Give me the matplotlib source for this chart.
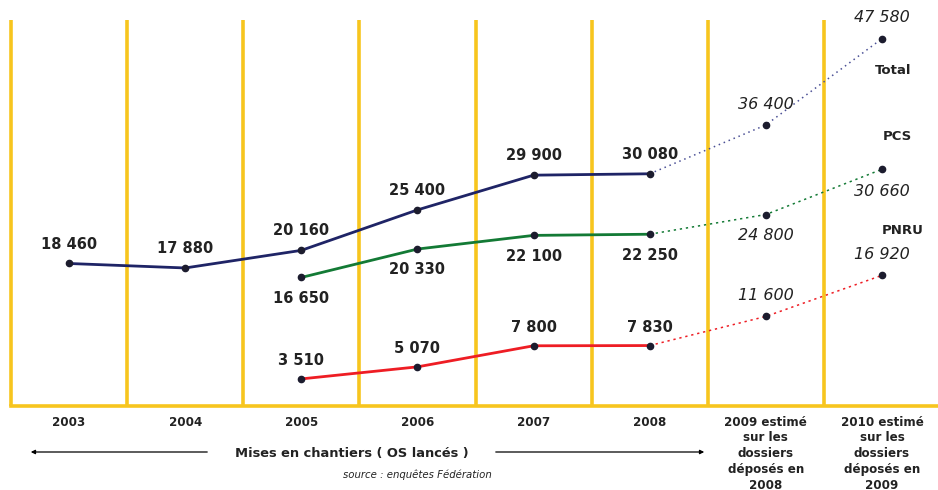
import matplotlib.pyplot as plt
from matplotlib.patches import FancyArrowPatch

# categories (x axis)
years = ['2003', '2004', '2005', '2006', '2007', '2008',
         '2009 estimé\nsur les\ndossiers\ndéposés en\n2008',
         '2010 estimé\nsur les\ndossiers\ndéposés en\n2009']

# observed values (2003-2008)
total_x = [0, 1, 2, 3, 4, 5]
total = [18460, 17880, 20160, 25400, 29900, 30080]
pcs_x = [2, 3, 4, 5]
pcs = [16650, 20330, 22100, 22250]
pnru_x = [2, 3, 4, 5]
pnru = [3510, 5070, 7800, 7830]

# estimates (2008 -> 2010)
est_x = [5, 6, 7]
total_est = [30080, 36400, 47580]
pcs_est = [22250, 24800, 30660]
pnru_est = [7830, 11600, 16920]

def fmt(v):
    return '{:,}'.format(v).replace(',', ' ')

fig = plt.figure(figsize=(9.38, 4.9), dpi=100)
ax = fig.add_axes([11/938, 84/490, 929/938, 386/490])
ax.set_xlim(-0.5, 7.5)
ax.set_ylim(0, 50000)
ax.axis('off')

yellow = '#F7C51E'
for b in range(9):
    ax.plot([b - 0.5, b - 0.5], [0, 50000], color=yellow, lw=2.6,
            solid_capstyle='butt', zorder=1, clip_on=False)
ax.plot([-0.5, 7.6], [0, 0], color=yellow, lw=2.6, zorder=1, clip_on=False)

navy = '#1F2466'
green = '#137A35'
red = '#EE1D24'
dot = '#1c1c2e'

ax.plot(total_x, total, color=navy, lw=2, zorder=3)
ax.plot(pcs_x, pcs, color=green, lw=2, zorder=3)
ax.plot(pnru_x, pnru, color=red, lw=2, zorder=3)
ax.plot(est_x, total_est, color='#4a4f95', lw=1.1, ls=(0, (1, 2.5)), zorder=3)
ax.plot(est_x, pcs_est, color=green, lw=1.1, ls=(0, (1.5, 2.5)), zorder=3)
ax.plot(est_x, pnru_est, color=red, lw=1.1, ls=(0, (1.5, 2.5)), zorder=3)

for xs, ys in [(total_x, total), (pcs_x, pcs), (pnru_x, pnru),
               (est_x[1:], total_est[1:]), (est_x[1:], pcs_est[1:]),
               (est_x[1:], pnru_est[1:])]:
    ax.plot(xs, ys, 'o', color=dot, ms=4.5, zorder=4)

txt = '#222222'
def lab(x, y, dy, italic=False):
    ax.annotate(fmt(y), (x, y), xytext=(0, dy), textcoords='offset points',
                ha='center', va='center', color=txt,
                fontsize=11.5 if italic else 10.5,
                fontweight='normal' if italic else 'bold',
                fontstyle='italic' if italic else 'normal')

for x, y in zip(total_x, total):
    lab(x, y, 14)
for x, y in zip(pcs_x, pcs):
    lab(x, y, -15)
for x, y in zip(pnru_x, pnru):
    lab(x, y, 13)
lab(6, 36400, 15, True)
lab(7, 47580, 15, True)
lab(6, 24800, -15, True)
lab(7, 30660, -16, True)
lab(6, 11600, 15, True)
lab(7, 16920, 15, True)

fig.text(893/938, 1 - 71/490, 'Total', ha='center', va='center',
         fontsize=9.5, fontweight='bold', color=txt)
fig.text(897/938, 1 - 137/490, 'PCS', ha='center', va='center',
         fontsize=9.5, fontweight='bold', color=txt)
fig.text(903/938, 1 - 231/490, 'PNRU', ha='center', va='center',
         fontsize=9.5, fontweight='bold', color=txt)

for i, lb in enumerate(years):
    ax.annotate(lb, (i, 0), xytext=(0, -7), textcoords='offset points',
                ha='center', va='top', fontsize=8.6, fontweight='bold',
                color=txt, linespacing=1.27)

fig.text(352/938, 1 - 453/490, 'Mises en chantiers ( OS lancés )',
         ha='center', va='center', fontsize=9.4, fontweight='bold', color=txt)
fig.text(417/938, 1 - 475/490, 'source : enquêtes Fédération',
         ha='center', va='center', fontsize=7.3, fontstyle='italic', color=txt)
fig.patches.append(FancyArrowPatch(
    (210/938, 1 - 452/490), (28/938, 1 - 452/490), transform=fig.transFigure,
    arrowstyle='-|>', mutation_scale=6, lw=0.9, color='black'))
fig.patches.append(FancyArrowPatch(
    (493/938, 1 - 452/490), (707/938, 1 - 452/490), transform=fig.transFigure,
    arrowstyle='-|>', mutation_scale=6, lw=0.9, color='black'))

fig.savefig('out.png', dpi=100)
